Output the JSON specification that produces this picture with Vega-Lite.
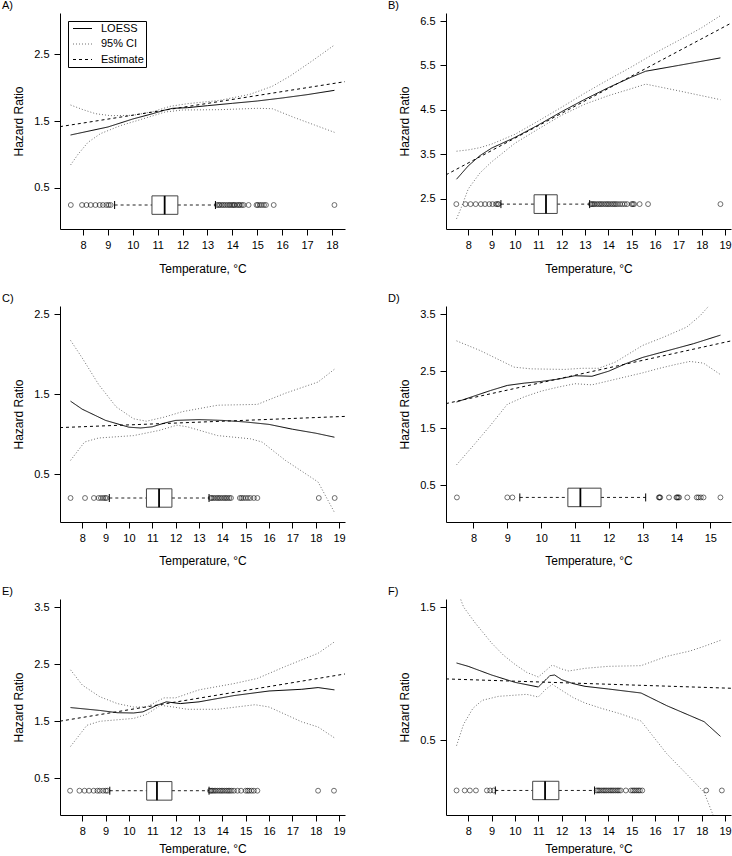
{
"$schema": "https://vega.github.io/schema/vega-lite/v6.json",
"padding": {"left": 2, "top": 0, "right": 2, "bottom": 0},
"columns": 2,
"spacing": {"row": 77, "column": 101},
"bounds": "flush",
"resolve": {"scale": {"x": "independent", "y": "independent", "color": "independent", "strokeDash": "independent"}, "legend": {"color": "independent", "strokeDash": "independent"}},
"config": {
  "view": {"stroke": null},
  "font": "Liberation Sans",
  "axis": {"domainColor": "#000", "tickColor": "#000", "tickSize": 6, "labelFont": "Liberation Sans", "labelFontSize": 11, "labelColor": "#000", "titleFont": "Liberation Sans", "titleFontSize": 12, "titleFontWeight": "normal", "titleColor": "#000", "grid": false, "labelOverlap": false, "labelFlush": false, "tickCount": 30},
  "axisX": {"labelPadding": 4, "titlePadding": 12},
  "axisY": {"labelPadding": 5, "titlePadding": 8},
  "title": {"anchor": "start", "frame": "group", "dx": -58, "offset": 2, "font": "Liberation Sans", "fontSize": 11, "fontWeight": "normal", "baseline": "alphabetic", "color": "#000"}
},
"datasets": {
  "A_lines": [
    {"s":"LOESS","g":"f","t":7.5,"hr":1.29},{"s":"LOESS","g":"f","t":8,"hr":1.33},{"s":"LOESS","g":"f","t":9,"hr":1.41},{"s":"LOESS","g":"f","t":10,"hr":1.53},{"s":"LOESS","g":"f","t":10.8,"hr":1.61},{"s":"LOESS","g":"f","t":11.3,"hr":1.665},{"s":"LOESS","g":"f","t":11.6,"hr":1.69},{"s":"LOESS","g":"f","t":12.2,"hr":1.7},{"s":"LOESS","g":"f","t":13,"hr":1.73},{"s":"LOESS","g":"f","t":14,"hr":1.765},{"s":"LOESS","g":"f","t":15,"hr":1.8},{"s":"LOESS","g":"f","t":16,"hr":1.845},{"s":"LOESS","g":"f","t":17,"hr":1.895},{"s":"LOESS","g":"f","t":18.1,"hr":1.96},
    {"s":"95% CI","g":"u","t":7.5,"hr":1.74},{"s":"95% CI","g":"u","t":8,"hr":1.67},{"s":"95% CI","g":"u","t":8.5,"hr":1.61},{"s":"95% CI","g":"u","t":9.1,"hr":1.58},{"s":"95% CI","g":"u","t":10,"hr":1.585},{"s":"95% CI","g":"u","t":10.8,"hr":1.64},{"s":"95% CI","g":"u","t":11.5,"hr":1.72},{"s":"95% CI","g":"u","t":12.2,"hr":1.76},{"s":"95% CI","g":"u","t":13.5,"hr":1.81},{"s":"95% CI","g":"u","t":14.7,"hr":1.9},{"s":"95% CI","g":"u","t":15.6,"hr":2.02},{"s":"95% CI","g":"u","t":16.3,"hr":2.17},{"s":"95% CI","g":"u","t":17.2,"hr":2.4},{"s":"95% CI","g":"u","t":18.1,"hr":2.64},
    {"s":"95% CI","g":"l","t":7.5,"hr":0.84},{"s":"95% CI","g":"l","t":7.8,"hr":1.0},{"s":"95% CI","g":"l","t":8.2,"hr":1.18},{"s":"95% CI","g":"l","t":8.7,"hr":1.31},{"s":"95% CI","g":"l","t":9.5,"hr":1.43},{"s":"95% CI","g":"l","t":10.3,"hr":1.52},{"s":"95% CI","g":"l","t":11.3,"hr":1.635},{"s":"95% CI","g":"l","t":12,"hr":1.665},{"s":"95% CI","g":"l","t":13.5,"hr":1.67},{"s":"95% CI","g":"l","t":15,"hr":1.69},{"s":"95% CI","g":"l","t":15.6,"hr":1.685},{"s":"95% CI","g":"l","t":16.5,"hr":1.55},{"s":"95% CI","g":"l","t":17.3,"hr":1.44},{"s":"95% CI","g":"l","t":18.1,"hr":1.33},
    {"s":"Estimate","g":"e","t":7.076,"hr":1.415},{"s":"Estimate","g":"e","t":18.524,"hr":2.09}
  ],
  "A_out": [{"t":7.51},{"t":7.96},{"t":8.14},{"t":8.31},{"t":8.5},{"t":8.67},{"t":8.8},{"t":8.94},{"t":9.03},{"t":9.11},{"t":13.38},{"t":13.45},{"t":13.5},{"t":13.58},{"t":13.65},{"t":13.72},{"t":13.8},{"t":13.87},{"t":13.93},{"t":14.0},{"t":14.05},{"t":14.1},{"t":14.18},{"t":14.25},{"t":14.3},{"t":14.38},{"t":14.45},{"t":14.65},{"t":14.97},{"t":15.02},{"t":15.1},{"t":15.18},{"t":15.27},{"t":15.35},{"t":15.66},{"t":18.1}],
  "B_lines": [
    {"s":"LOESS","g":"f","t":7.5,"hr":2.94},{"s":"LOESS","g":"f","t":8,"hr":3.24},{"s":"LOESS","g":"f","t":8.5,"hr":3.47},{"s":"LOESS","g":"f","t":9,"hr":3.64},{"s":"LOESS","g":"f","t":10,"hr":3.88},{"s":"LOESS","g":"f","t":11,"hr":4.16},{"s":"LOESS","g":"f","t":12,"hr":4.46},{"s":"LOESS","g":"f","t":13,"hr":4.74},{"s":"LOESS","g":"f","t":14,"hr":5.0},{"s":"LOESS","g":"f","t":15,"hr":5.24},{"s":"LOESS","g":"f","t":15.6,"hr":5.37},{"s":"LOESS","g":"f","t":17,"hr":5.5},{"s":"LOESS","g":"f","t":18.8,"hr":5.67},
    {"s":"95% CI","g":"u","t":7.5,"hr":3.57},{"s":"95% CI","g":"u","t":8,"hr":3.6},{"s":"95% CI","g":"u","t":8.5,"hr":3.65},{"s":"95% CI","g":"u","t":9,"hr":3.73},{"s":"95% CI","g":"u","t":10,"hr":3.95},{"s":"95% CI","g":"u","t":11,"hr":4.25},{"s":"95% CI","g":"u","t":12,"hr":4.56},{"s":"95% CI","g":"u","t":13,"hr":4.88},{"s":"95% CI","g":"u","t":14,"hr":5.18},{"s":"95% CI","g":"u","t":15,"hr":5.47},{"s":"95% CI","g":"u","t":16,"hr":5.78},{"s":"95% CI","g":"u","t":17,"hr":6.06},{"s":"95% CI","g":"u","t":18,"hr":6.35},{"s":"95% CI","g":"u","t":18.8,"hr":6.62},
    {"s":"95% CI","g":"l","t":7.5,"hr":2.05},{"s":"95% CI","g":"l","t":7.7,"hr":2.3},{"s":"95% CI","g":"l","t":8,"hr":2.72},{"s":"95% CI","g":"l","t":8.5,"hr":3.08},{"s":"95% CI","g":"l","t":9,"hr":3.33},{"s":"95% CI","g":"l","t":10,"hr":3.75},{"s":"95% CI","g":"l","t":11,"hr":4.07},{"s":"95% CI","g":"l","t":12,"hr":4.38},{"s":"95% CI","g":"l","t":13,"hr":4.63},{"s":"95% CI","g":"l","t":14,"hr":4.82},{"s":"95% CI","g":"l","t":15,"hr":4.98},{"s":"95% CI","g":"l","t":15.6,"hr":5.08},{"s":"95% CI","g":"l","t":17,"hr":4.93},{"s":"95% CI","g":"l","t":18.8,"hr":4.73},
    {"s":"Estimate","g":"e","t":7.048,"hr":3.039},{"s":"Estimate","g":"e","t":19.252,"hr":6.451}
  ],
  "B_out": [{"t":7.49},{"t":7.88},{"t":8.1},{"t":8.32},{"t":8.54},{"t":8.72},{"t":8.9},{"t":9.04},{"t":9.19},{"t":9.26},{"t":9.3},{"t":13.25},{"t":13.3},{"t":13.36},{"t":13.42},{"t":13.5},{"t":13.58},{"t":13.65},{"t":13.72},{"t":13.8},{"t":13.88},{"t":13.95},{"t":14.02},{"t":14.1},{"t":14.18},{"t":14.25},{"t":14.32},{"t":14.4},{"t":14.5},{"t":14.6},{"t":14.7},{"t":14.8},{"t":15.0},{"t":15.05},{"t":15.1},{"t":15.34},{"t":15.7},{"t":18.8}],
  "C_lines": [
    {"s":"LOESS","g":"f","t":7.5,"hr":1.41},{"s":"LOESS","g":"f","t":8,"hr":1.31},{"s":"LOESS","g":"f","t":9,"hr":1.17},{"s":"LOESS","g":"f","t":10,"hr":1.085},{"s":"LOESS","g":"f","t":10.5,"hr":1.075},{"s":"LOESS","g":"f","t":11,"hr":1.09},{"s":"LOESS","g":"f","t":11.5,"hr":1.135},{"s":"LOESS","g":"f","t":12,"hr":1.17},{"s":"LOESS","g":"f","t":13,"hr":1.18},{"s":"LOESS","g":"f","t":14,"hr":1.17},{"s":"LOESS","g":"f","t":15,"hr":1.15},{"s":"LOESS","g":"f","t":16,"hr":1.12},{"s":"LOESS","g":"f","t":17,"hr":1.06},{"s":"LOESS","g":"f","t":18,"hr":1.01},{"s":"LOESS","g":"f","t":18.8,"hr":0.96},
    {"s":"95% CI","g":"u","t":7.5,"hr":2.17},{"s":"95% CI","g":"u","t":8,"hr":1.95},{"s":"95% CI","g":"u","t":8.7,"hr":1.62},{"s":"95% CI","g":"u","t":9.45,"hr":1.34},{"s":"95% CI","g":"u","t":10.2,"hr":1.19},{"s":"95% CI","g":"u","t":10.75,"hr":1.16},{"s":"95% CI","g":"u","t":11.5,"hr":1.21},{"s":"95% CI","g":"u","t":12.3,"hr":1.28},{"s":"95% CI","g":"u","t":13.8,"hr":1.36},{"s":"95% CI","g":"u","t":15.5,"hr":1.37},{"s":"95% CI","g":"u","t":16.7,"hr":1.51},{"s":"95% CI","g":"u","t":18.1,"hr":1.65},{"s":"95% CI","g":"u","t":18.8,"hr":1.81},
    {"s":"95% CI","g":"l","t":7.5,"hr":0.67},{"s":"95% CI","g":"l","t":8.1,"hr":0.9},{"s":"95% CI","g":"l","t":8.7,"hr":0.95},{"s":"95% CI","g":"l","t":10.2,"hr":0.98},{"s":"95% CI","g":"l","t":11.3,"hr":1.045},{"s":"95% CI","g":"l","t":12.05,"hr":1.11},{"s":"95% CI","g":"l","t":12.5,"hr":1.09},{"s":"95% CI","g":"l","t":13.8,"hr":0.98},{"s":"95% CI","g":"l","t":15.2,"hr":0.94},{"s":"95% CI","g":"l","t":15.7,"hr":0.9},{"s":"95% CI","g":"l","t":16.7,"hr":0.67},{"s":"95% CI","g":"l","t":18.1,"hr":0.4},{"s":"95% CI","g":"l","t":18.8,"hr":0.02},
    {"s":"Estimate","g":"e","t":7.048,"hr":1.08},{"s":"Estimate","g":"e","t":19.252,"hr":1.22}
  ],
  "C_out": [{"t":7.5},{"t":8.12},{"t":8.5},{"t":8.7},{"t":8.8},{"t":8.9},{"t":8.98},{"t":9.04},{"t":13.5},{"t":13.55},{"t":13.62},{"t":13.7},{"t":13.78},{"t":13.85},{"t":13.92},{"t":14.0},{"t":14.08},{"t":14.15},{"t":14.22},{"t":14.3},{"t":14.37},{"t":14.75},{"t":14.82},{"t":14.9},{"t":15.0},{"t":15.1},{"t":15.2},{"t":15.35},{"t":15.5},{"t":18.13},{"t":18.81}],
  "D_lines": [
    {"s":"LOESS","g":"f","t":7.5,"hr":1.96},{"s":"LOESS","g":"f","t":8,"hr":2.06},{"s":"LOESS","g":"f","t":8.5,"hr":2.16},{"s":"LOESS","g":"f","t":9,"hr":2.25},{"s":"LOESS","g":"f","t":9.5,"hr":2.29},{"s":"LOESS","g":"f","t":10,"hr":2.32},{"s":"LOESS","g":"f","t":10.5,"hr":2.36},{"s":"LOESS","g":"f","t":11,"hr":2.42},{"s":"LOESS","g":"f","t":11.5,"hr":2.41},{"s":"LOESS","g":"f","t":12,"hr":2.5},{"s":"LOESS","g":"f","t":12.5,"hr":2.63},{"s":"LOESS","g":"f","t":13,"hr":2.74},{"s":"LOESS","g":"f","t":13.5,"hr":2.82},{"s":"LOESS","g":"f","t":14,"hr":2.9},{"s":"LOESS","g":"f","t":14.5,"hr":2.98},{"s":"LOESS","g":"f","t":15.3,"hr":3.13},
    {"s":"95% CI","g":"u","t":7.5,"hr":3.03},{"s":"95% CI","g":"u","t":8.2,"hr":2.86},{"s":"95% CI","g":"u","t":9.2,"hr":2.57},{"s":"95% CI","g":"u","t":9.7,"hr":2.54},{"s":"95% CI","g":"u","t":10.7,"hr":2.53},{"s":"95% CI","g":"u","t":11.2,"hr":2.55},{"s":"95% CI","g":"u","t":11.7,"hr":2.55},{"s":"95% CI","g":"u","t":12.2,"hr":2.66},{"s":"95% CI","g":"u","t":13,"hr":2.95},{"s":"95% CI","g":"u","t":13.6,"hr":3.09},{"s":"95% CI","g":"u","t":14.3,"hr":3.27},{"s":"95% CI","g":"u","t":14.7,"hr":3.47},{"s":"95% CI","g":"u","t":15,"hr":3.67},{"s":"95% CI","g":"u","t":15.3,"hr":3.95},
    {"s":"95% CI","g":"l","t":7.5,"hr":0.86},{"s":"95% CI","g":"l","t":8,"hr":1.2},{"s":"95% CI","g":"l","t":8.5,"hr":1.55},{"s":"95% CI","g":"l","t":9,"hr":1.92},{"s":"95% CI","g":"l","t":9.5,"hr":2.05},{"s":"95% CI","g":"l","t":10,"hr":2.15},{"s":"95% CI","g":"l","t":10.5,"hr":2.22},{"s":"95% CI","g":"l","t":11,"hr":2.28},{"s":"95% CI","g":"l","t":11.5,"hr":2.26},{"s":"95% CI","g":"l","t":12,"hr":2.33},{"s":"95% CI","g":"l","t":12.5,"hr":2.4},{"s":"95% CI","g":"l","t":13,"hr":2.47},{"s":"95% CI","g":"l","t":13.5,"hr":2.55},{"s":"95% CI","g":"l","t":14,"hr":2.62},{"s":"95% CI","g":"l","t":14.4,"hr":2.67},{"s":"95% CI","g":"l","t":14.8,"hr":2.64},{"s":"95% CI","g":"l","t":15.3,"hr":2.44},
    {"s":"Estimate","g":"e","t":7.188,"hr":1.932},{"s":"Estimate","g":"e","t":15.612,"hr":3.029}
  ],
  "D_out": [{"t":7.51},{"t":9.0},{"t":9.15},{"t":13.48},{"t":13.5},{"t":13.52},{"t":13.78},{"t":14.0},{"t":14.02},{"t":14.05},{"t":14.08},{"t":14.32},{"t":14.6},{"t":14.65},{"t":14.72},{"t":14.8},{"t":15.3}],
  "E_lines": [
    {"s":"LOESS","g":"f","t":7.5,"hr":1.74},{"s":"LOESS","g":"f","t":8.75,"hr":1.69},{"s":"LOESS","g":"f","t":9.5,"hr":1.65},{"s":"LOESS","g":"f","t":10.2,"hr":1.645},{"s":"LOESS","g":"f","t":10.6,"hr":1.665},{"s":"LOESS","g":"f","t":11.2,"hr":1.78},{"s":"LOESS","g":"f","t":11.6,"hr":1.84},{"s":"LOESS","g":"f","t":12.2,"hr":1.81},{"s":"LOESS","g":"f","t":13,"hr":1.84},{"s":"LOESS","g":"f","t":14.5,"hr":1.95},{"s":"LOESS","g":"f","t":16,"hr":2.03},{"s":"LOESS","g":"f","t":17.4,"hr":2.06},{"s":"LOESS","g":"f","t":18.1,"hr":2.09},{"s":"LOESS","g":"f","t":18.8,"hr":2.05},
    {"s":"95% CI","g":"u","t":7.5,"hr":2.4},{"s":"95% CI","g":"u","t":8,"hr":2.135},{"s":"95% CI","g":"u","t":8.75,"hr":1.93},{"s":"95% CI","g":"u","t":9.5,"hr":1.81},{"s":"95% CI","g":"u","t":10.2,"hr":1.75},{"s":"95% CI","g":"u","t":10.75,"hr":1.75},{"s":"95% CI","g":"u","t":11.5,"hr":1.91},{"s":"95% CI","g":"u","t":12,"hr":1.91},{"s":"95% CI","g":"u","t":13,"hr":2.05},{"s":"95% CI","g":"u","t":14.5,"hr":2.16},{"s":"95% CI","g":"u","t":15.5,"hr":2.25},{"s":"95% CI","g":"u","t":16.7,"hr":2.46},{"s":"95% CI","g":"u","t":18.1,"hr":2.69},{"s":"95% CI","g":"u","t":18.8,"hr":2.89},
    {"s":"95% CI","g":"l","t":7.5,"hr":1.06},{"s":"95% CI","g":"l","t":8.2,"hr":1.43},{"s":"95% CI","g":"l","t":8.75,"hr":1.5},{"s":"95% CI","g":"l","t":10.2,"hr":1.55},{"s":"95% CI","g":"l","t":10.75,"hr":1.62},{"s":"95% CI","g":"l","t":11.35,"hr":1.78},{"s":"95% CI","g":"l","t":11.9,"hr":1.75},{"s":"95% CI","g":"l","t":12.5,"hr":1.71},{"s":"95% CI","g":"l","t":13.8,"hr":1.71},{"s":"95% CI","g":"l","t":15.4,"hr":1.79},{"s":"95% CI","g":"l","t":16,"hr":1.75},{"s":"95% CI","g":"l","t":17.4,"hr":1.49},{"s":"95% CI","g":"l","t":18.1,"hr":1.4},{"s":"95% CI","g":"l","t":18.8,"hr":1.21},
    {"s":"Estimate","g":"e","t":7.048,"hr":1.502},{"s":"Estimate","g":"e","t":19.252,"hr":2.328}
  ],
  "E_out": [{"t":7.48},{"t":7.88},{"t":8.1},{"t":8.29},{"t":8.49},{"t":8.65},{"t":8.75},{"t":8.89},{"t":9.01},{"t":9.08},{"t":13.47},{"t":13.52},{"t":13.58},{"t":13.65},{"t":13.72},{"t":13.8},{"t":13.88},{"t":13.95},{"t":14.02},{"t":14.1},{"t":14.18},{"t":14.25},{"t":14.32},{"t":14.4},{"t":14.5},{"t":14.65},{"t":14.8},{"t":15.0},{"t":15.08},{"t":15.15},{"t":15.25},{"t":15.35},{"t":15.5},{"t":18.1},{"t":18.78}],
  "F_lines": [
    {"s":"LOESS","g":"f","t":7.5,"hr":1.08},{"s":"LOESS","g":"f","t":8,"hr":1.055},{"s":"LOESS","g":"f","t":9,"hr":0.99},{"s":"LOESS","g":"f","t":10,"hr":0.935},{"s":"LOESS","g":"f","t":11,"hr":0.9},{"s":"LOESS","g":"f","t":11.5,"hr":0.985},{"s":"LOESS","g":"f","t":11.7,"hr":0.99},{"s":"LOESS","g":"f","t":12,"hr":0.955},{"s":"LOESS","g":"f","t":12.5,"hr":0.925},{"s":"LOESS","g":"f","t":13,"hr":0.905},{"s":"LOESS","g":"f","t":14,"hr":0.885},{"s":"LOESS","g":"f","t":15.4,"hr":0.855},{"s":"LOESS","g":"f","t":16.5,"hr":0.76},{"s":"LOESS","g":"f","t":17.5,"hr":0.685},{"s":"LOESS","g":"f","t":18.1,"hr":0.64},{"s":"LOESS","g":"f","t":18.8,"hr":0.53},
    {"s":"95% CI","g":"u","t":7.5,"hr":1.64},{"s":"95% CI","g":"u","t":7.8,"hr":1.5},{"s":"95% CI","g":"u","t":8.3,"hr":1.38},{"s":"95% CI","g":"u","t":9,"hr":1.23},{"s":"95% CI","g":"u","t":9.5,"hr":1.14},{"s":"95% CI","g":"u","t":10,"hr":1.07},{"s":"95% CI","g":"u","t":10.5,"hr":1.01},{"s":"95% CI","g":"u","t":11,"hr":0.975},{"s":"95% CI","g":"u","t":11.3,"hr":1.02},{"s":"95% CI","g":"u","t":11.6,"hr":1.065},{"s":"95% CI","g":"u","t":12,"hr":1.035},{"s":"95% CI","g":"u","t":12.3,"hr":1.02},{"s":"95% CI","g":"u","t":13,"hr":1.04},{"s":"95% CI","g":"u","t":14,"hr":1.055},{"s":"95% CI","g":"u","t":15.4,"hr":1.06},{"s":"95% CI","g":"u","t":16.5,"hr":1.13},{"s":"95% CI","g":"u","t":17.5,"hr":1.17},{"s":"95% CI","g":"u","t":18.1,"hr":1.205},{"s":"95% CI","g":"u","t":18.8,"hr":1.25},
    {"s":"95% CI","g":"l","t":7.5,"hr":0.46},{"s":"95% CI","g":"l","t":7.8,"hr":0.62},{"s":"95% CI","g":"l","t":8.2,"hr":0.74},{"s":"95% CI","g":"l","t":8.6,"hr":0.8},{"s":"95% CI","g":"l","t":9.3,"hr":0.83},{"s":"95% CI","g":"l","t":10.5,"hr":0.845},{"s":"95% CI","g":"l","t":11,"hr":0.825},{"s":"95% CI","g":"l","t":11.3,"hr":0.88},{"s":"95% CI","g":"l","t":11.6,"hr":0.92},{"s":"95% CI","g":"l","t":12,"hr":0.875},{"s":"95% CI","g":"l","t":12.5,"hr":0.82},{"s":"95% CI","g":"l","t":13,"hr":0.78},{"s":"95% CI","g":"l","t":13.7,"hr":0.74},{"s":"95% CI","g":"l","t":14.5,"hr":0.7},{"s":"95% CI","g":"l","t":15.4,"hr":0.645},{"s":"95% CI","g":"l","t":16.5,"hr":0.4},{"s":"95% CI","g":"l","t":17.5,"hr":0.22},{"s":"95% CI","g":"l","t":18.1,"hr":0.11},{"s":"95% CI","g":"l","t":18.8,"hr":-0.2},
    {"s":"Estimate","g":"e","t":7.048,"hr":0.9606},{"s":"Estimate","g":"e","t":19.252,"hr":0.8906}
  ],
  "F_out": [{"t":7.5},{"t":7.85},{"t":8.07},{"t":8.33},{"t":8.8},{"t":8.94},{"t":9.09},{"t":13.5},{"t":13.56},{"t":13.62},{"t":13.7},{"t":13.78},{"t":13.85},{"t":13.92},{"t":14.0},{"t":14.08},{"t":14.15},{"t":14.22},{"t":14.3},{"t":14.38},{"t":14.45},{"t":14.53},{"t":14.75},{"t":14.97},{"t":15.05},{"t":15.12},{"t":15.2},{"t":15.28},{"t":15.35},{"t":15.45},{"t":18.19},{"t":18.86}]
},
"concat": [
{
  "title": {"text": "A)"}, "width": 285, "height": 216,
  "layer": [
    {"data": {"name": "A_lines"}, "mark": {"type": "line", "clip": true, "strokeWidth": 1},
     "encoding": {
       "x": {"field": "t", "type": "quantitative", "scale": {"domain": [7.076, 18.524], "nice": false, "zero": false}, "axis": {"values": [8,9,10,11,12,13,14,15,16,17,18], "format": "d", "title": "Temperature, °C", "titlePadding": 13}},
       "y": {"field": "hr", "type": "quantitative", "scale": {"domain": [-0.12, 3.12], "nice": false, "zero": false}, "axis": {"values": [0.5,1.5,2.5], "format": ".1f", "title": "Hazard Ratio"}},
       "color": {"field": "s", "type": "nominal", "scale": {"domain": ["LOESS","95% CI","Estimate"], "range": ["#000000","#707070","#000000"]},
         "legend": {"title": null, "orient": "top-left", "offset": 8, "padding": 2, "strokeColor": "#000", "fillColor": "#fff", "symbolType": "M-0.5,0H3.3", "symbolSize": 100, "symbolStrokeWidth": 1, "labelFont": "Liberation Sans", "labelFontSize": 11, "labelColor": "#000", "labelOffset": 20, "rowPadding": 3.5}},
       "strokeDash": {"field": "s", "type": "nominal", "scale": {"domain": ["LOESS","95% CI","Estimate"], "range": [[1,0],[1,2],[3,3]]},
         "legend": {"title": null, "orient": "top-left", "offset": 8, "padding": 2, "strokeColor": "#000", "fillColor": "#fff", "symbolType": "M-0.5,0H3.3", "symbolSize": 100, "symbolStrokeWidth": 1, "labelFont": "Liberation Sans", "labelFontSize": 11, "labelColor": "#000", "labelOffset": 20, "rowPadding": 3.5}},
       "detail": {"field": "g"}
     }},
    {"data": {"values": [{"lo": 9.27, "q1": 10.77, "med": 11.28, "q3": 11.81, "hi": 13.32}]},
     "layer": [
       {"mark": {"type": "rule", "strokeDash": [3,3], "color": "#222"}, "encoding": {"x": {"field": "lo", "type": "quantitative"}, "x2": {"field": "q1"}, "y": {"datum": 0.24}}},
       {"mark": {"type": "rule", "strokeDash": [3,3], "color": "#222"}, "encoding": {"x": {"field": "q3", "type": "quantitative"}, "x2": {"field": "hi"}, "y": {"datum": 0.24}}},
       {"mark": {"type": "rule", "color": "#000"}, "encoding": {"x": {"field": "lo", "type": "quantitative"}, "y": {"datum": 0.18}, "y2": {"datum": 0.30}}},
       {"mark": {"type": "rule", "color": "#000"}, "encoding": {"x": {"field": "hi", "type": "quantitative"}, "y": {"datum": 0.18}, "y2": {"datum": 0.30}}},
       {"mark": {"type": "rect", "filled": false, "color": "#444", "strokeWidth": 1}, "encoding": {"x": {"field": "q1", "type": "quantitative"}, "x2": {"field": "q3"}, "y": {"datum": 0.10}, "y2": {"datum": 0.377}}},
       {"mark": {"type": "rule", "color": "#000", "strokeWidth": 1.8}, "encoding": {"x": {"field": "med", "type": "quantitative"}, "y": {"datum": 0.10}, "y2": {"datum": 0.377}}}
     ]},
    {"data": {"name": "A_out"}, "mark": {"type": "point", "shape": "circle", "filled": false, "size": 24, "strokeWidth": 0.8, "color": "#000"},
     "encoding": {"x": {"field": "t", "type": "quantitative"}, "y": {"datum": 0.24}}}
  ]
},
{
  "title": {"text": "B)"}, "width": 285, "height": 216,
  "layer": [
    {"data": {"name": "B_lines"}, "mark": {"type": "line", "clip": true, "strokeWidth": 1},
     "encoding": {
       "x": {"field": "t", "type": "quantitative", "scale": {"domain": [7.048, 19.252], "nice": false, "zero": false}, "axis": {"values": [8,9,10,11,12,13,14,15,16,17,18,19], "format": "d", "title": "Temperature, °C", "titlePadding": 13}},
       "y": {"field": "hr", "type": "quantitative", "scale": {"domain": [1.82, 6.68], "nice": false, "zero": false}, "axis": {"values": [2.5,3.5,4.5,5.5,6.5], "format": ".1f", "title": "Hazard Ratio"}},
       "color": {"field": "s", "type": "nominal", "scale": {"domain": ["LOESS","95% CI","Estimate"], "range": ["#000000","#707070","#000000"]}, "legend": null},
       "strokeDash": {"field": "s", "type": "nominal", "scale": {"domain": ["LOESS","95% CI","Estimate"], "range": [[1,0],[1,2],[3,3]]}, "legend": null},
       "detail": {"field": "g"}
     }},
    {"data": {"values": [{"lo": 9.4, "q1": 10.82, "med": 11.33, "q3": 11.81, "hi": 13.2}]},
     "layer": [
       {"mark": {"type": "rule", "strokeDash": [3,3], "color": "#222"}, "encoding": {"x": {"field": "lo", "type": "quantitative"}, "x2": {"field": "q1"}, "y": {"datum": 2.38}}},
       {"mark": {"type": "rule", "strokeDash": [3,3], "color": "#222"}, "encoding": {"x": {"field": "q3", "type": "quantitative"}, "x2": {"field": "hi"}, "y": {"datum": 2.38}}},
       {"mark": {"type": "rule", "color": "#000"}, "encoding": {"x": {"field": "lo", "type": "quantitative"}, "y": {"datum": 2.29}, "y2": {"datum": 2.47}}},
       {"mark": {"type": "rule", "color": "#000"}, "encoding": {"x": {"field": "hi", "type": "quantitative"}, "y": {"datum": 2.29}, "y2": {"datum": 2.47}}},
       {"mark": {"type": "rect", "filled": false, "color": "#444", "strokeWidth": 1}, "encoding": {"x": {"field": "q1", "type": "quantitative"}, "x2": {"field": "q3"}, "y": {"datum": 2.17}, "y2": {"datum": 2.59}}},
       {"mark": {"type": "rule", "color": "#000", "strokeWidth": 1.8}, "encoding": {"x": {"field": "med", "type": "quantitative"}, "y": {"datum": 2.17}, "y2": {"datum": 2.59}}}
     ]},
    {"data": {"name": "B_out"}, "mark": {"type": "point", "shape": "circle", "filled": false, "size": 24, "strokeWidth": 0.8, "color": "#000"},
     "encoding": {"x": {"field": "t", "type": "quantitative"}, "y": {"datum": 2.38}}}
  ]
},
{
  "title": {"text": "C)"}, "width": 285, "height": 216,
  "layer": [
    {"data": {"name": "C_lines"}, "mark": {"type": "line", "clip": true, "strokeWidth": 1},
     "encoding": {
       "x": {"field": "t", "type": "quantitative", "scale": {"domain": [7.048, 19.252], "nice": false, "zero": false}, "axis": {"values": [8,9,10,11,12,13,14,15,16,17,18,19], "format": "d", "title": "Temperature, °C", "titlePadding": 12}},
       "y": {"field": "hr", "type": "quantitative", "scale": {"domain": [-0.1, 2.6], "nice": false, "zero": false}, "axis": {"values": [0.5,1.5,2.5], "format": ".1f", "title": "Hazard Ratio"}},
       "color": {"field": "s", "type": "nominal", "scale": {"domain": ["LOESS","95% CI","Estimate"], "range": ["#000000","#707070","#000000"]}, "legend": null},
       "strokeDash": {"field": "s", "type": "nominal", "scale": {"domain": ["LOESS","95% CI","Estimate"], "range": [[1,0],[1,2],[3,3]]}, "legend": null},
       "detail": {"field": "g"}
     }},
    {"data": {"values": [{"lo": 9.16, "q1": 10.75, "med": 11.29, "q3": 11.84, "hi": 13.43}]},
     "layer": [
       {"mark": {"type": "rule", "strokeDash": [3,3], "color": "#222"}, "encoding": {"x": {"field": "lo", "type": "quantitative"}, "x2": {"field": "q1"}, "y": {"datum": 0.2}}},
       {"mark": {"type": "rule", "strokeDash": [3,3], "color": "#222"}, "encoding": {"x": {"field": "q3", "type": "quantitative"}, "x2": {"field": "hi"}, "y": {"datum": 0.2}}},
       {"mark": {"type": "rule", "color": "#000"}, "encoding": {"x": {"field": "lo", "type": "quantitative"}, "y": {"datum": 0.15}, "y2": {"datum": 0.25}}},
       {"mark": {"type": "rule", "color": "#000"}, "encoding": {"x": {"field": "hi", "type": "quantitative"}, "y": {"datum": 0.15}, "y2": {"datum": 0.25}}},
       {"mark": {"type": "rect", "filled": false, "color": "#444", "strokeWidth": 1}, "encoding": {"x": {"field": "q1", "type": "quantitative"}, "x2": {"field": "q3"}, "y": {"datum": 0.085}, "y2": {"datum": 0.315}}},
       {"mark": {"type": "rule", "color": "#000", "strokeWidth": 1.8}, "encoding": {"x": {"field": "med", "type": "quantitative"}, "y": {"datum": 0.085}, "y2": {"datum": 0.315}}}
     ]},
    {"data": {"name": "C_out"}, "mark": {"type": "point", "shape": "circle", "filled": false, "size": 24, "strokeWidth": 0.8, "color": "#000"},
     "encoding": {"x": {"field": "t", "type": "quantitative"}, "y": {"datum": 0.2}}}
  ]
},
{
  "title": {"text": "D)"}, "width": 285, "height": 216,
  "layer": [
    {"data": {"name": "D_lines"}, "mark": {"type": "line", "clip": true, "strokeWidth": 1},
     "encoding": {
       "x": {"field": "t", "type": "quantitative", "scale": {"domain": [7.188, 15.612], "nice": false, "zero": false}, "axis": {"values": [8,9,10,11,12,13,14,15], "format": "d", "title": "Temperature, °C", "titlePadding": 12}},
       "y": {"field": "hr", "type": "quantitative", "scale": {"domain": [-0.14, 3.64], "nice": false, "zero": false}, "axis": {"values": [0.5,1.5,2.5,3.5], "format": ".1f", "title": "Hazard Ratio"}},
       "color": {"field": "s", "type": "nominal", "scale": {"domain": ["LOESS","95% CI","Estimate"], "range": ["#000000","#707070","#000000"]}, "legend": null},
       "strokeDash": {"field": "s", "type": "nominal", "scale": {"domain": ["LOESS","95% CI","Estimate"], "range": [[1,0],[1,2],[3,3]]}, "legend": null},
       "detail": {"field": "g"}
     }},
    {"data": {"values": [{"lo": 9.37, "q1": 10.79, "med": 11.16, "q3": 11.77, "hi": 13.09}]},
     "layer": [
       {"mark": {"type": "rule", "strokeDash": [3,3], "color": "#222"}, "encoding": {"x": {"field": "lo", "type": "quantitative"}, "x2": {"field": "q1"}, "y": {"datum": 0.29}}},
       {"mark": {"type": "rule", "strokeDash": [3,3], "color": "#222"}, "encoding": {"x": {"field": "q3", "type": "quantitative"}, "x2": {"field": "hi"}, "y": {"datum": 0.29}}},
       {"mark": {"type": "rule", "color": "#000"}, "encoding": {"x": {"field": "lo", "type": "quantitative"}, "y": {"datum": 0.22}, "y2": {"datum": 0.36}}},
       {"mark": {"type": "rule", "color": "#000"}, "encoding": {"x": {"field": "hi", "type": "quantitative"}, "y": {"datum": 0.22}, "y2": {"datum": 0.36}}},
       {"mark": {"type": "rect", "filled": false, "color": "#444", "strokeWidth": 1}, "encoding": {"x": {"field": "q1", "type": "quantitative"}, "x2": {"field": "q3"}, "y": {"datum": 0.128}, "y2": {"datum": 0.452}}},
       {"mark": {"type": "rule", "color": "#000", "strokeWidth": 1.8}, "encoding": {"x": {"field": "med", "type": "quantitative"}, "y": {"datum": 0.128}, "y2": {"datum": 0.452}}}
     ]},
    {"data": {"name": "D_out"}, "mark": {"type": "point", "shape": "circle", "filled": false, "size": 24, "strokeWidth": 0.8, "color": "#000"},
     "encoding": {"x": {"field": "t", "type": "quantitative"}, "y": {"datum": 0.29}}}
  ]
},
{
  "title": {"text": "E)"}, "width": 285, "height": 216,
  "layer": [
    {"data": {"name": "E_lines"}, "mark": {"type": "line", "clip": true, "strokeWidth": 1},
     "encoding": {
       "x": {"field": "t", "type": "quantitative", "scale": {"domain": [7.048, 19.252], "nice": false, "zero": false}, "axis": {"values": [8,9,10,11,12,13,14,15,16,17,18,19], "format": "d", "title": "Temperature, °C", "titlePadding": 7}},
       "y": {"field": "hr", "type": "quantitative", "scale": {"domain": [-0.14, 3.64], "nice": false, "zero": false}, "axis": {"values": [0.5,1.5,2.5,3.5], "format": ".1f", "title": "Hazard Ratio"}},
       "color": {"field": "s", "type": "nominal", "scale": {"domain": ["LOESS","95% CI","Estimate"], "range": ["#000000","#707070","#000000"]}, "legend": null},
       "strokeDash": {"field": "s", "type": "nominal", "scale": {"domain": ["LOESS","95% CI","Estimate"], "range": [[1,0],[1,2],[3,3]]}, "legend": null},
       "detail": {"field": "g"}
     }},
    {"data": {"values": [{"lo": 9.18, "q1": 10.76, "med": 11.2, "q3": 11.84, "hi": 13.43}]},
     "layer": [
       {"mark": {"type": "rule", "strokeDash": [3,3], "color": "#222"}, "encoding": {"x": {"field": "lo", "type": "quantitative"}, "x2": {"field": "q1"}, "y": {"datum": 0.285}}},
       {"mark": {"type": "rule", "strokeDash": [3,3], "color": "#222"}, "encoding": {"x": {"field": "q3", "type": "quantitative"}, "x2": {"field": "hi"}, "y": {"datum": 0.285}}},
       {"mark": {"type": "rule", "color": "#000"}, "encoding": {"x": {"field": "lo", "type": "quantitative"}, "y": {"datum": 0.215}, "y2": {"datum": 0.355}}},
       {"mark": {"type": "rule", "color": "#000"}, "encoding": {"x": {"field": "hi", "type": "quantitative"}, "y": {"datum": 0.215}, "y2": {"datum": 0.355}}},
       {"mark": {"type": "rect", "filled": false, "color": "#444", "strokeWidth": 1}, "encoding": {"x": {"field": "q1", "type": "quantitative"}, "x2": {"field": "q3"}, "y": {"datum": 0.12}, "y2": {"datum": 0.445}}},
       {"mark": {"type": "rule", "color": "#000", "strokeWidth": 1.8}, "encoding": {"x": {"field": "med", "type": "quantitative"}, "y": {"datum": 0.12}, "y2": {"datum": 0.445}}}
     ]},
    {"data": {"name": "E_out"}, "mark": {"type": "point", "shape": "circle", "filled": false, "size": 24, "strokeWidth": 0.8, "color": "#000"},
     "encoding": {"x": {"field": "t", "type": "quantitative"}, "y": {"datum": 0.285}}}
  ]
},
{
  "title": {"text": "F)"}, "width": 285, "height": 216,
  "layer": [
    {"data": {"name": "F_lines"}, "mark": {"type": "line", "clip": true, "strokeWidth": 1},
     "encoding": {
       "x": {"field": "t", "type": "quantitative", "scale": {"domain": [7.048, 19.252], "nice": false, "zero": false}, "axis": {"values": [8,9,10,11,12,13,14,15,16,17,18,19], "format": "d", "title": "Temperature, °C", "titlePadding": 7}},
       "y": {"field": "hr", "type": "quantitative", "scale": {"domain": [-0.06, 1.56], "nice": false, "zero": false}, "axis": {"values": [0.5,1.5], "format": ".1f", "title": "Hazard Ratio"}},
       "color": {"field": "s", "type": "nominal", "scale": {"domain": ["LOESS","95% CI","Estimate"], "range": ["#000000","#707070","#000000"]}, "legend": null},
       "strokeDash": {"field": "s", "type": "nominal", "scale": {"domain": ["LOESS","95% CI","Estimate"], "range": [[1,0],[1,2],[3,3]]}, "legend": null},
       "detail": {"field": "g"}
     }},
    {"data": {"values": [{"lo": 9.16, "q1": 10.76, "med": 11.29, "q3": 11.88, "hi": 13.41}]},
     "layer": [
       {"mark": {"type": "rule", "strokeDash": [3,3], "color": "#222"}, "encoding": {"x": {"field": "lo", "type": "quantitative"}, "x2": {"field": "q1"}, "y": {"datum": 0.124}}},
       {"mark": {"type": "rule", "strokeDash": [3,3], "color": "#222"}, "encoding": {"x": {"field": "q3", "type": "quantitative"}, "x2": {"field": "hi"}, "y": {"datum": 0.124}}},
       {"mark": {"type": "rule", "color": "#000"}, "encoding": {"x": {"field": "lo", "type": "quantitative"}, "y": {"datum": 0.094}, "y2": {"datum": 0.154}}},
       {"mark": {"type": "rule", "color": "#000"}, "encoding": {"x": {"field": "hi", "type": "quantitative"}, "y": {"datum": 0.094}, "y2": {"datum": 0.154}}},
       {"mark": {"type": "rect", "filled": false, "color": "#444", "strokeWidth": 1}, "encoding": {"x": {"field": "q1", "type": "quantitative"}, "x2": {"field": "q3"}, "y": {"datum": 0.055}, "y2": {"datum": 0.193}}},
       {"mark": {"type": "rule", "color": "#000", "strokeWidth": 1.8}, "encoding": {"x": {"field": "med", "type": "quantitative"}, "y": {"datum": 0.055}, "y2": {"datum": 0.193}}}
     ]},
    {"data": {"name": "F_out"}, "mark": {"type": "point", "shape": "circle", "filled": false, "size": 24, "strokeWidth": 0.8, "color": "#000"},
     "encoding": {"x": {"field": "t", "type": "quantitative"}, "y": {"datum": 0.124}}}
  ]
}
]
}
